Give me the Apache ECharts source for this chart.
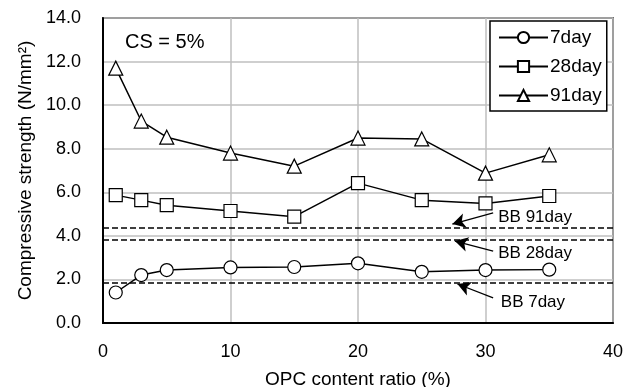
<!DOCTYPE html>
<html>
<head>
<meta charset="utf-8">
<script src="https://cdn.jsdelivr.net/npm/echarts@6/dist/echarts.min.js"></script>
<style>
  html, body { margin: 0; padding: 0; background: #fff; }
  #chart { width: 636px; height: 387px; }
</style>
</head>
<body>
<div id="chart"></div>
<script>
// OPC content ratio (%)
const opcRatio = [1, 3, 5, 10, 15, 20, 25, 30, 35];
// compressive strength (N/mm2)
const day7 = [1.4, 2.2, 2.43, 2.55, 2.57, 2.74, 2.35, 2.43, 2.45];
const day28 = [5.87, 5.64, 5.41, 5.14, 4.88, 6.42, 5.64, 5.49, 5.83];
const day91 = [11.7, 9.27, 8.53, 7.8, 7.2, 8.49, 8.45, 6.88, 7.72];
// BB cement reference levels
const bbNames = ["BB 91day", "BB 28day", "BB 7day"];
const bbLevels = [4.37, 3.8, 1.85];
// arrow start / end and label spots (data units)
const arrowFrom = [[30.6, 5.05], [30.6, 3.3], [30.6, 1.15]];
const arrowTo = [[27.4, 4.54], [27.6, 3.76], [27.8, 1.79]];
const labelAt = [[31.0, 4.86], [31.0, 3.21], [31.2, 0.96]];

const fontFam = "'Liberation Sans', Arial, sans-serif";

function pairs(xs, ys) {
    return xs.map((x, i) => [x, ys[i]]);
}

function lineSeries(name, data, symbol, size) {
    return {
        name: name,
        type: "line",
        data: pairs(opcRatio, data),
        symbol: symbol,
        symbolSize: size,
        lineStyle: { color: "#000", width: 1.5 },
        itemStyle: { color: "#fff", borderColor: "#000", borderWidth: 1.2 },
        z: 5
    };
}

const chart = echarts.init(document.getElementById("chart"));

const option = {
    animation: false,
    textStyle: { fontFamily: fontFam },
    grid: {
        left: 103, right: 23, top: 18, bottom: 64,
        outerBoundsMode: "none",
        show: true, borderColor: "#000", borderWidth: 1.5
    },
    graphic: [{
        type: "text", left: 125, top: 32,
        style: { text: "CS = 5%", font: "20px " + fontFam, fill: "#000" }
    }],
    legend: {
        data: ["7day", "28day", "91day"],
        orient: "vertical",
        left: 490, top: 21,
        backgroundColor: "#fff",
        borderColor: "#000", borderWidth: 1.5,
        padding: [7, 5, 6, 8],
        itemWidth: 49, itemHeight: 14, itemGap: 10,
        textStyle: { fontSize: 19, color: "#000", fontFamily: fontFam, padding: [0, 0, 0, -3] }
    },
    xAxis: {
        type: "value",
        min: 0, max: 40, interval: 10,
        name: "OPC content ratio (%)",
        nameLocation: "middle", nameGap: 47,
        nameTextStyle: { fontSize: 19, color: "#000" },
        axisLine: { lineStyle: { color: "#000", width: 2 } },
        axisTick: { show: false },
        axisLabel: { fontSize: 18, color: "#000", margin: 20 },
        splitLine: { lineStyle: { color: "#bfbfbf", width: 1.5 } }
    },
    yAxis: {
        type: "value",
        min: 0, max: 14, interval: 2,
        name: "Compressive strength (N/mm²)",
        nameLocation: "middle", nameGap: 66,
        nameTextStyle: { fontSize: 19, color: "#000" },
        axisLine: { show: true, lineStyle: { color: "#000", width: 2 } },
        axisTick: { show: false },
        axisLabel: { fontSize: 18, color: "#000", margin: 22, formatter: v => v.toFixed(1) },
        splitLine: { lineStyle: { color: "#bfbfbf", width: 1.5 } }
    },
    series: [
        lineSeries("7day", day7, "circle", 13),
        lineSeries("28day", day28, "rect", 13),
        lineSeries("91day", day91, "triangle", 14),
        {
            // BB levels
            name: "BB",
            type: "line",
            data: [],
            markLine: {
                silent: true,
                symbol: ["none", "none"],
                label: { show: false },
                lineStyle: { color: "#000", type: "dashed", width: 1.5 },
                data: bbLevels.map(v => ({ yAxis: v }))
            },
            z: 3
        },
        {
            name: "arrows",
            type: "line",
            data: [],
            markLine: {
                silent: true,
                symbol: ["none", "arrow"],
                symbolSize: [11, 13],
                label: { show: false },
                lineStyle: { color: "#000", type: "solid", width: 1.3 },
                data: arrowFrom.map((f, i) => [{ coord: f }, { coord: arrowTo[i] }])
            },
            z: 4
        },
        {
            name: "labels",
            type: "scatter",
            symbolSize: 0,
            itemStyle: { opacity: 1 },
            data: labelAt.map((p, i) => ({ value: p, name: bbNames[i] })),
            label: {
                show: true, position: "right", distance: 0,
                formatter: p => p.name,
                fontSize: 17, color: "#000", fontFamily: fontFam
            },
            z: 6
        }
    ]
};

chart.setOption(option);
</script>
</body>
</html>
